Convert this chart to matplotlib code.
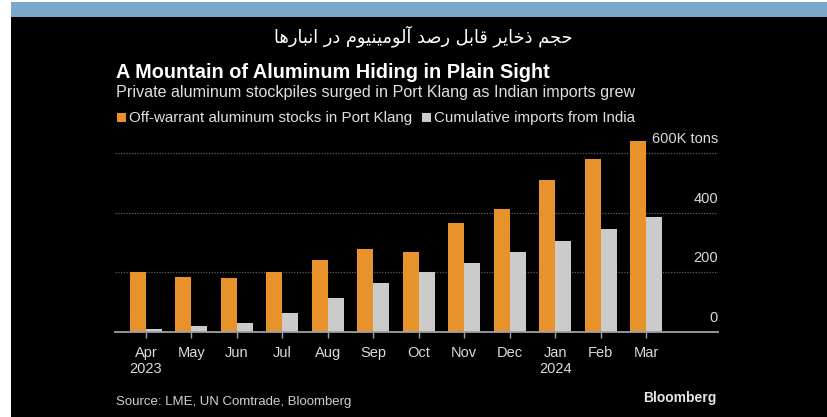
import matplotlib.pyplot as plt
from matplotlib.patches import Rectangle
import numpy as np

months = ["Apr", "May", "Jun", "Jul", "Aug", "Sep", "Oct", "Nov", "Dec", "Jan", "Feb", "Mar"]
years = {"Apr": "2023", "Jan": "2024"}
port_klang = [200, 183, 181, 201, 241, 277, 268, 366, 414, 511, 580, 640]
india_imports = [9, 18, 30, 64, 113, 163, 202, 230, 268, 306, 347, 386]
y_ticks = [0, 200, 400, 600]
y_labels = ["0", "200", "400", "600K tons"]

title_fa = "حجم ذخایر قابل رصد آلومینیوم در انبارها"
title = "A Mountain of Aluminum Hiding in Plain Sight"
subtitle = "Private aluminum stockpiles surged in Port Klang as Indian imports grew"
legend_labels = ["Off-warrant aluminum stocks in Port Klang", "Cumulative imports from India"]
source = "Source: LME, UN Comtrade, Bloomberg"

ORANGE = "#E8922B"
GREY = "#CBCBCB"

# arabic letter forms: isolated, final, initial, medial (right-joining ones only have two)
FORMS = {
    "ح": "\uFEA1\uFEA2\uFEA3\uFEA4", "ج": "\uFE9D\uFE9E\uFE9F\uFEA0",
    "م": "\uFEE1\uFEE2\uFEE3\uFEE4", "خ": "\uFEA5\uFEA6\uFEA7\uFEA8",
    "ی": "\uFBFC\uFBFD\uFBFE\uFBFF", "ق": "\uFED5\uFED6\uFED7\uFED8",
    "ب": "\uFE8F\uFE90\uFE91\uFE92", "ل": "\uFEDD\uFEDE\uFEDF\uFEE0",
    "ص": "\uFEB9\uFEBA\uFEBB\uFEBC", "ن": "\uFEE5\uFEE6\uFEE7\uFEE8",
    "ه": "\uFEE9\uFEEA\uFEEB\uFEEC",
    "ذ": "\uFEAB\uFEAC", "ا": "\uFE8D\uFE8E", "ر": "\uFEAD\uFEAE",
    "د": "\uFEA9\uFEAA", "آ": "\uFE81\uFE82", "و": "\uFEED\uFEEE",
}


def shape_rtl(text):
    out = []
    for word in text.split(" "):
        chars = []
        for i, c in enumerate(word):
            forms = FORMS.get(c)
            if forms is None:
                chars.append(c)
                continue
            prev_joins = i > 0 and len(FORMS.get(word[i - 1], "")) == 4
            next_joins = len(forms) == 4 and i < len(word) - 1 and word[i + 1] in FORMS
            if prev_joins and next_joins:
                chars.append(forms[3])
            elif prev_joins:
                chars.append(forms[1])
            elif next_joins:
                chars.append(forms[2])
            else:
                chars.append(forms[0])
        out.append("".join(chars))
    return " ".join(out)[::-1]


plt.rcParams["font.family"] = ["Liberation Sans", "DejaVu Sans"]

W, H = 828, 417
fig = plt.figure(figsize=(W / 100, H / 100), dpi=100, facecolor="white")

# black card with the blue strip on top, kept behind the axes
fig.patches.append(Rectangle((11 / W, 0), 1 - 11 / W, 1 - 17 / H, transform=fig.transFigure,
                             facecolor="black", edgecolor="none", zorder=-2))
fig.patches.append(Rectangle((11 / W, 1 - 17 / H), 1 - 11 / W, 15 / H, transform=fig.transFigure,
                             facecolor="#7BA7CB", edgecolor="none", zorder=-2))

fig.text(423 / W, 1 - 36 / H, shape_rtl(title_fa), color="white", fontsize=12.8,
         family="DejaVu Sans", ha="center", va="center")
fig.text(116 / W, 1 - 78 / H, title, color="white", fontsize=14.3, fontweight="bold",
         ha="left", va="baseline")
fig.text(116 / W, 1 - 97 / H, subtitle, color="#E0E0E0", fontsize=11.6,
         ha="left", va="baseline")

# legend squares and labels
for x0, col, lbl in [(117, ORANGE, legend_labels[0]), (422, GREY, legend_labels[1])]:
    fig.patches.append(Rectangle((x0 / W, 1 - 122 / H), 9 / W, 9 / H, transform=fig.transFigure,
                                 facecolor=col, edgecolor="none"))
    fig.text((x0 + 12) / W, 1 - 122 / H, lbl, color="#E0E0E0", fontsize=10.9,
             ha="left", va="baseline")

ax = fig.add_axes([115 / W, 1 - 331.7 / H, (718 - 115) / W, (331.7 - 135.5) / H])
ax.set_facecolor("none")

x = np.arange(len(months))
w = 0.35
ax.bar(x, port_klang, width=-w, align="edge", color=ORANGE, zorder=3)
ax.bar(x, india_imports, width=w, align="edge", color=GREY, zorder=3)

ax.set_xlim(-0.68, 12.58)
ax.set_ylim(0, 660)

for v in y_ticks[1:]:
    ax.axhline(v, color="#5E5E5E", lw=0.9, ls=(0, (1, 1.2)), zorder=1)
for v, lbl in zip(y_ticks, y_labels):
    ax.annotate(lbl, xy=(1, v), xycoords=("axes fraction", "data"), xytext=(0, 5),
                textcoords="offset points", ha="right", va="bottom",
                color="#DADADA", fontsize=10.5)

for s in ["top", "right", "left"]:
    ax.spines[s].set_visible(False)
ax.spines["bottom"].set_color("#A0A0A0")
ax.spines["bottom"].set_linewidth(1.3)
ax.spines["bottom"].set_zorder(4)
ax.set_yticks([])
ax.set_xticks(x)
ax.set_xticklabels([m + ("\n" + years[m] if m in years else "") for m in months],
                   color="#DADADA", fontsize=10.5, linespacing=1.25)
ax.tick_params(axis="x", length=4, width=1, color="#A0A0A0", pad=6)

fig.text(116 / W, 1 - 405 / H, source, color="#D0D0D0", fontsize=9.5,
         ha="left", va="baseline")
fig.text(717 / W, 1 - 398 / H, "Bloomberg", color="#E6E6E6", fontsize=10,
         fontweight="bold", ha="right", va="center")

fig.savefig("out.png", dpi=100, facecolor=fig.get_facecolor())
